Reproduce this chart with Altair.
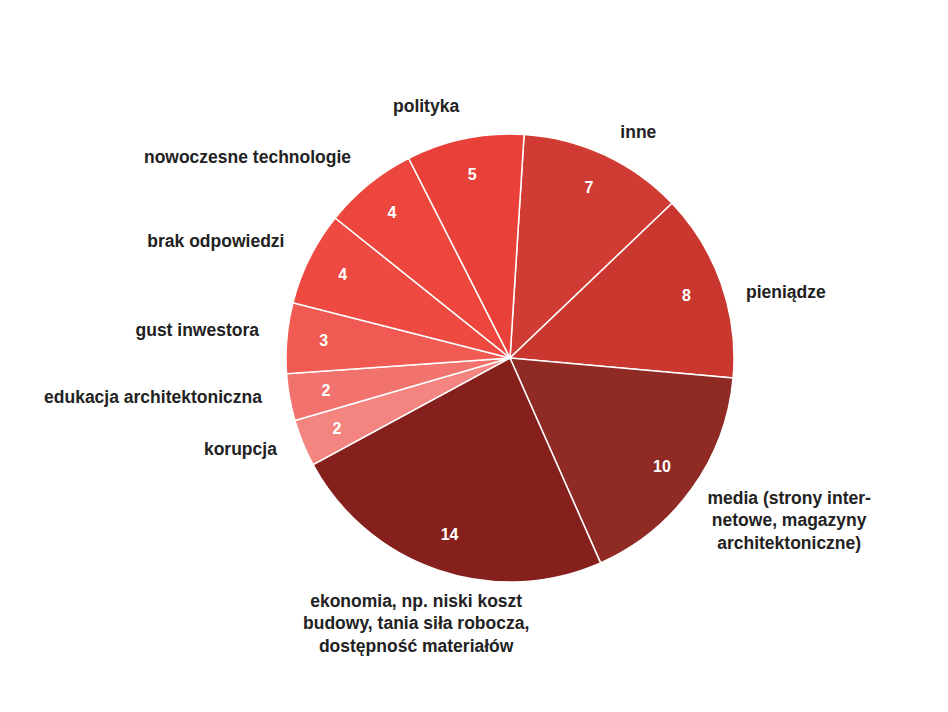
import altair as alt
import pandas as pd

categories = ["inne", "pieniądze", "media (strony inter-netowe, magazyny architektoniczne)",
              "ekonomia, np. niski koszt budowy, tania siła robocza, dostępność materiałów",
              "korupcja", "edukacja architektoniczna", "gust inwestora", "brak odpowiedzi",
              "nowoczesne technologie", "polityka"]
label_lines = [["inne"], ["pieniądze"], ["media (strony inter-", "netowe, magazyny", "architektoniczne)"],
               ["ekonomia, np. niski koszt", "budowy, tania siła robocza,", "dostępność materiałów"],
               ["korupcja"], ["edukacja architektoniczna"], ["gust inwestora"], ["brak odpowiedzi"],
               ["nowoczesne technologie"], ["polityka"]]
values = [7, 8, 10, 14, 2, 2, 3, 4, 4, 5]
colors = ["#d03c33", "#c9372e", "#8f2a24", "#86201d", "#f3847f", "#f2736e", "#f05a53",
          "#ee4a41", "#ec463d", "#e9413a"]
sides = ["left", "left2", "media", "bottom", "right", "right", "right", "right", "right", "right"]

df = pd.DataFrame({
    "cat": categories,
    "val": values,
    "idx": list(range(len(values))),
    "lines": label_lines,
    "side": sides,
})

start = 0.063
theta_scale = alt.Scale(range=[start, start + 6.283185307])
FONT = "Liberation Sans"

base = alt.Chart(df).encode(
    theta=alt.Theta("val:Q", stack=True, scale=theta_scale),
    order=alt.Order("idx:Q"),
)

pie = base.mark_arc(outerRadius=224, stroke="white", strokeWidth=1.5).encode(
    color=alt.Color("cat:N", scale=alt.Scale(domain=categories, range=colors), legend=None)
)

nums = base.mark_text(radius=187, font=FONT, fontWeight="bold", fontSize=16,
                      color="white").encode(text="val:Q")

def label_layer(side, **kw):
    return base.transform_calculate(
        lab=f"datum.side == '{side}' ? datum.lines : ''"
    ).mark_text(font=FONT, fontWeight="bold", fontSize=17.5, color="#222222",
                lineHeight=22.5, **kw).encode(text="lab:N")

right_labels = label_layer("right", radius=252, align="right", baseline="middle", dy=-4)
left_labels = label_layer("left", radius=252, align="left", baseline="middle", dy=3, dx=4)
left2_labels = label_layer("left2", radius=250, align="left", baseline="middle", dy=18)
media_labels = label_layer("media", radius=250, align="center", baseline="middle", dx=76, dy=-5)
bottom_labels = label_layer("bottom", radius=250, align="center", baseline="top", dx=-13, dy=-2)

chart = alt.layer(pie, nums, right_labels, left_labels, left2_labels, media_labels,
                  bottom_labels).properties(
    width=600, height=600,
    autosize=alt.AutoSizeParams(type="none"),
    padding={"left": 202, "top": 50, "right": 110, "bottom": 30},
).configure_view(stroke=None)

chart.save("out.html", embed_options={"renderer": "svg", "actions": False})
